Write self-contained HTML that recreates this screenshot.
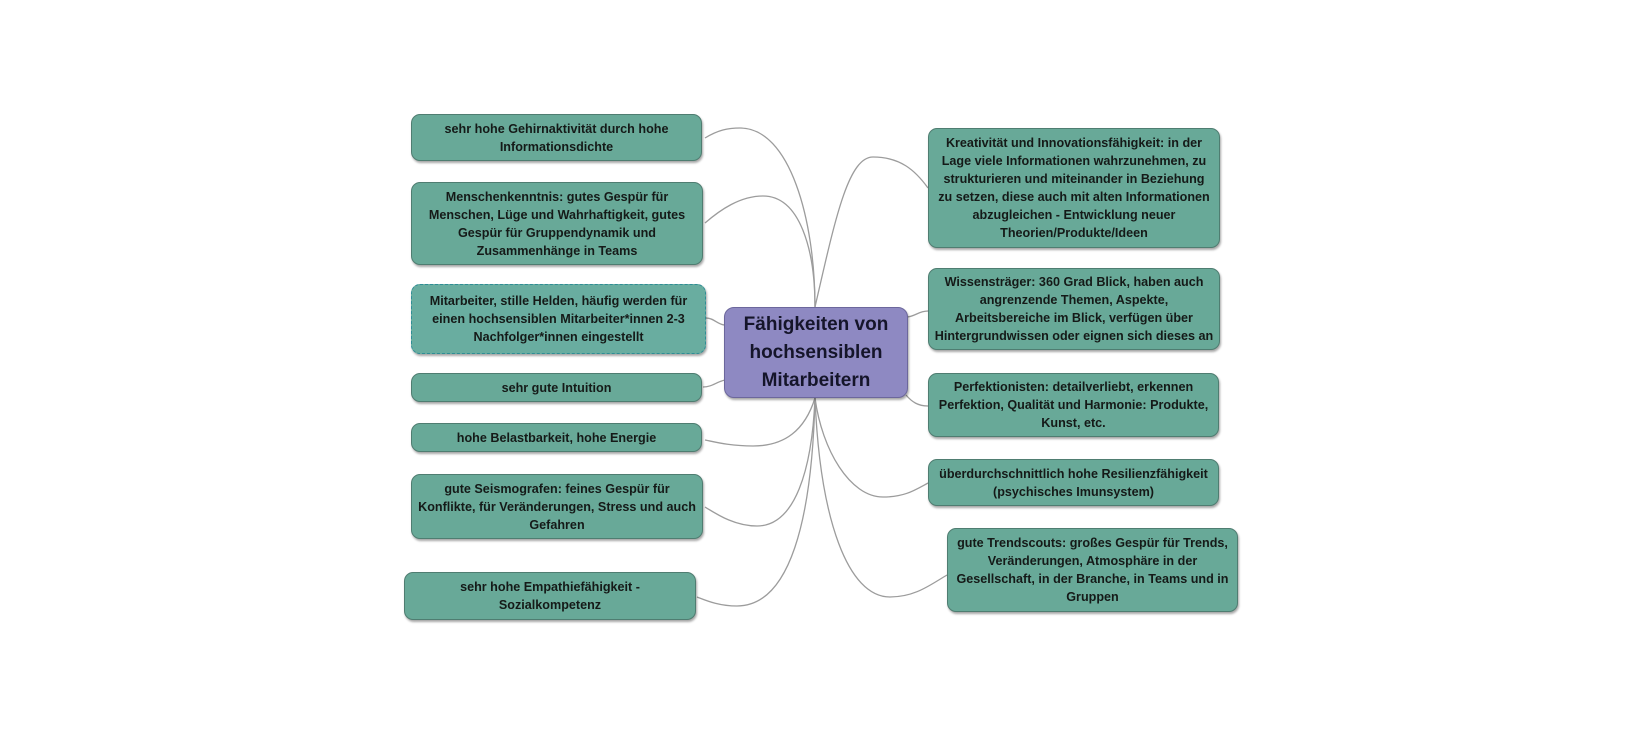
<!DOCTYPE html>
<html>
<head>
<meta charset="utf-8">
<style>
  html,body{margin:0;padding:0;background:#fff;}
  body{width:1650px;height:741px;position:relative;overflow:hidden;
       font-family:"Liberation Sans", Arial, sans-serif;}
  .n{position:absolute;box-sizing:border-box;background:#68a998;border:1px solid #4f7d71;
     border-radius:9px;box-shadow:1px 2px 2px rgba(0,0,0,0.35);
     display:flex;align-items:center;justify-content:center;text-align:center;
     font-weight:bold;font-size:12.6px;line-height:18px;color:#151a18;white-space:nowrap;}
  .dash{border:1px dashed #2f8d96;background:#69ad a0;}
  .c{position:absolute;box-sizing:border-box;left:724px;top:307px;width:184px;height:91px;
     background:#8e89c2;border:1px solid #6c679c;border-radius:10px;
     box-shadow:1px 2px 2px rgba(0,0,0,0.35);
     display:flex;align-items:center;justify-content:center;text-align:center;
     font-weight:bold;font-size:19px;line-height:28px;color:#15152a;}
  svg{position:absolute;left:0;top:0;}
</style>
</head>
<body>
<svg width="1650" height="741" viewBox="0 0 1650 741">
  <g fill="none" stroke="#9c9c9c" stroke-width="1.3">
    <!-- left top -->
    <path d="M705,138 C718,130 728,128 740,128 C790,128 815,220 815,307"/>
    <path d="M705,223 C720,210 740,196 763,196 C800,196 815,250 815,307"/>
    <!-- right top -->
    <path d="M815,307 C835,220 848,157 873,157 C900,157 915,170 928,188"/>
    <!-- sides -->
    <path d="M706,318 C714,318 718,325 725,325"/>
    <path d="M703,387 C712,387 716,382 725,380"/>
    <path d="M906,317 C915,317 918,311 928,311"/>
    <path d="M906,395 C912,402 918,406 928,406"/>
    <!-- bottom left -->
    <path d="M815,398 C805,430 785,446 753,446 C730,446 715,442 705,440"/>
    <path d="M815,398 C812,470 795,526 757,526 C735,526 718,515 705,507"/>
    <path d="M815,398 C812,520 790,606 737,606 C718,606 705,600 697,597"/>
    <!-- bottom right -->
    <path d="M815,398 C822,450 850,497 883,497 C905,497 915,490 928,483"/>
    <path d="M815,398 C820,520 848,597 890,597 C915,597 930,585 947,575"/>
  </g>
</svg>

<!-- left nodes -->
<div class="n" style="left:411px;top:114px;width:291px;height:47px;">sehr hohe Gehirnaktivität durch hohe<br>Informationsdichte</div>
<div class="n" style="left:411px;top:182px;width:292px;height:83px;">Menschenkenntnis: gutes Gespür für<br>Menschen, Lüge und Wahrhaftigkeit, gutes<br>Gespür für Gruppendynamik und<br>Zusammenhänge in Teams</div>
<div class="n" style="left:411px;top:284px;width:295px;height:70px;border:1px dashed #2f8d96;background:#69ada0;">Mitarbeiter, stille Helden, häufig werden für<br>einen hochsensiblen Mitarbeiter*innen 2-3<br>Nachfolger*innen eingestellt</div>
<div class="n" style="left:411px;top:373px;width:291px;height:29px;">sehr gute Intuition</div>
<div class="n" style="left:411px;top:423px;width:291px;height:29px;">hohe Belastbarkeit, hohe Energie</div>
<div class="n" style="left:411px;top:474px;width:292px;height:65px;">gute Seismografen: feines Gespür für<br>Konflikte, für Veränderungen, Stress und auch<br>Gefahren</div>
<div class="n" style="left:404px;top:572px;width:292px;height:48px;">sehr hohe Empathiefähigkeit -<br>Sozialkompetenz</div>

<!-- center -->
<div class="c">Fähigkeiten von<br>hochsensiblen<br>Mitarbeitern</div>

<!-- right nodes -->
<div class="n" style="left:928px;top:128px;width:292px;height:120px;">Kreativität und Innovationsfähigkeit: in der<br>Lage viele Informationen wahrzunehmen, zu<br>strukturieren und miteinander in Beziehung<br>zu setzen, diese auch mit alten Informationen<br>abzugleichen - Entwicklung neuer<br>Theorien/Produkte/Ideen</div>
<div class="n" style="left:928px;top:268px;width:292px;height:82px;">Wissensträger: 360 Grad Blick, haben auch<br>angrenzende Themen, Aspekte,<br>Arbeitsbereiche im Blick, verfügen über<br>Hintergrundwissen oder eignen sich dieses an</div>
<div class="n" style="left:928px;top:373px;width:291px;height:64px;">Perfektionisten: detailverliebt, erkennen<br>Perfektion, Qualität und Harmonie: Produkte,<br>Kunst, etc.</div>
<div class="n" style="left:928px;top:459px;width:291px;height:47px;">überdurchschnittlich hohe Resilienzfähigkeit<br>(psychisches Imunsystem)</div>
<div class="n" style="left:947px;top:528px;width:291px;height:84px;">gute Trendscouts: großes Gespür für Trends,<br>Veränderungen, Atmosphäre in der<br>Gesellschaft, in der Branche, in Teams und in<br>Gruppen</div>
</body>
</html>
